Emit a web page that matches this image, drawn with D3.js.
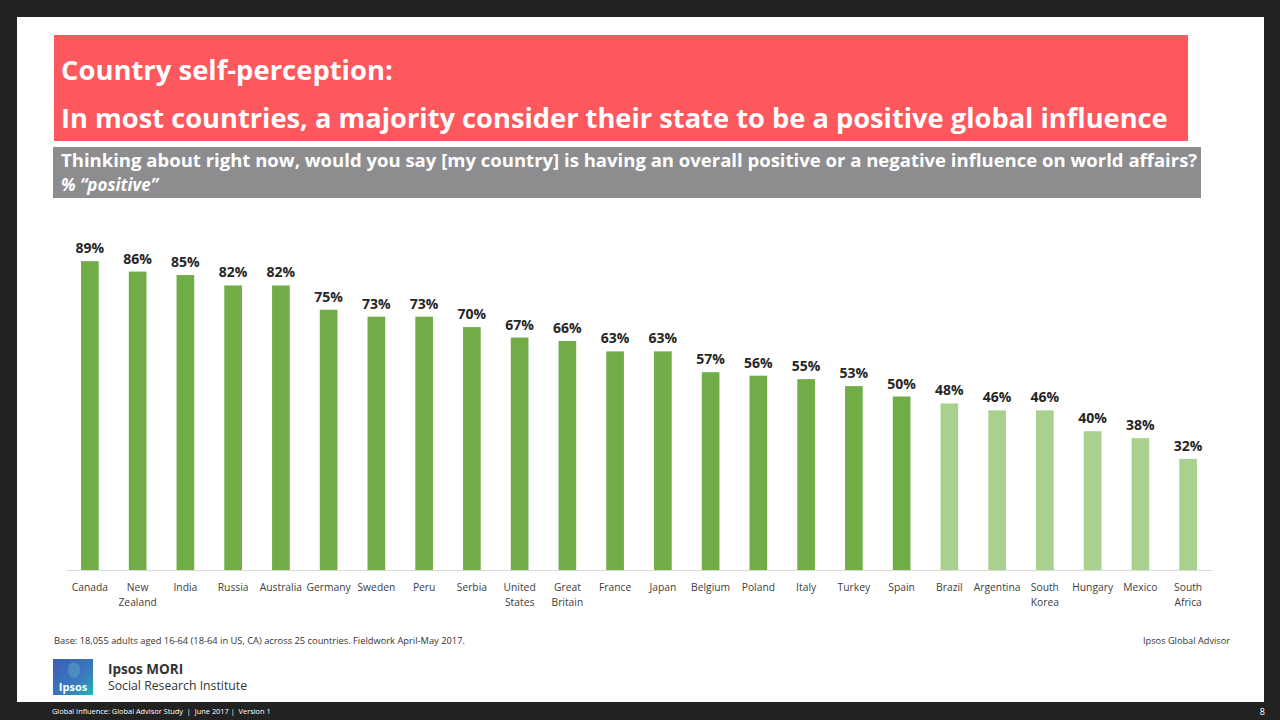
<!DOCTYPE html>
<html>
<head>
<meta charset="utf-8">
<script src="https://cdn.jsdelivr.net/npm/d3@7"></script>
<style>
  html, body { margin: 0; padding: 0; background: #222222; }
  svg { display: block; }
</style>
</head>
<body>
<svg id="chart" width="1280" height="720"></svg>
<script>
const countries = ["Canada","New Zealand","India","Russia","Australia","Germany","Sweden","Peru","Serbia","United States","Great Britain","France","Japan","Belgium","Poland","Italy","Turkey","Spain","Brazil","Argentina","South Korea","Hungary","Mexico","South Africa"];
const labelLines = [["Canada"],["New","Zealand"],["India"],["Russia"],["Australia"],["Germany"],["Sweden"],["Peru"],["Serbia"],["United","States"],["Great","Britain"],["France"],["Japan"],["Belgium"],["Poland"],["Italy"],["Turkey"],["Spain"],["Brazil"],["Argentina"],["South","Korea"],["Hungary"],["Mexico"],["South","Africa"]];
const positive = [89,86,85,82,82,75,73,73,70,67,66,63,63,57,56,55,53,50,48,46,46,40,38,32];
const yDomain = [0, 100];

const titleLine1 = "Country self-perception:";
const titleLine2 = "In most countries, a majority consider their state to be a positive global influence";
const questionText = "Thinking about right now, would you say [my country] is having an overall positive or a negative influence on world affairs?";
const questionSub = "% \u201cpositive\u201d";
const baseNote = "Base: 18,055 adults aged 16-64 (18-64 in US, CA) across 25 countries. Fieldwork April-May 2017.";
const sourceNote = "Ipsos Global Advisor";
const footerText = "Global Influence: Global Advisor Study  |  June 2017 |  Version 1";
const pageNum = "8";

const svg = d3.select("#chart");
const FONT = "'Open Sans', 'Noto Sans', sans-serif";

function fit(sel, w) {
  const node = sel.node();
  const cur = parseFloat(sel.attr("font-size"));
  const len = node.getComputedTextLength();
  sel.attr("font-size", (cur * w / len).toFixed(2));
  return sel;
}

// slide
svg.append("rect").attr("x", 17).attr("y", 17).attr("width", 1247).attr("height", 685).attr("fill", "#ffffff");

// title box
svg.append("rect").attr("x", 54).attr("y", 35).attr("width", 1134).attr("height", 106).attr("fill", "#fc585d");
fit(svg.append("text").attr("x", 61).attr("y", 80).attr("font-family", FONT).attr("font-weight", 700)
  .attr("font-size", 26).attr("fill", "#ffffff").text(titleLine1), 332);
fit(svg.append("text").attr("x", 61).attr("y", 128).attr("font-family", FONT).attr("font-weight", 700)
  .attr("font-size", 26).attr("fill", "#ffffff").text(titleLine2), 1107);

// question box
svg.append("rect").attr("x", 53).attr("y", 147).attr("width", 1148).attr("height", 51).attr("fill", "#8d8d8f");
fit(svg.append("text").attr("x", 61).attr("y", 167).attr("font-family", FONT).attr("font-weight", 700)
  .attr("font-size", 17).attr("fill", "#ffffff").text(questionText), 1137);
svg.append("text").attr("x", 61).attr("y", 191).attr("font-family", FONT).attr("font-weight", 700)
  .attr("font-style", "italic").attr("font-size", 17).attr("fill", "#ffffff").text(questionSub);

// chart
const x = d3.scaleBand().domain(countries).range([66, 1212]).paddingInner(0.63).paddingOuter(0.315);
const y = d3.scaleLinear().domain(yDomain).range([570, 223]);

const g = svg.append("g");
g.selectAll("rect.bar").data(countries).join("rect").attr("class", "bar")
  .attr("x", d => x(d)).attr("width", x.bandwidth())
  .attr("y", (d, i) => y(positive[i])).attr("height", (d, i) => y(0) - y(positive[i]))
  .attr("fill", (d, i) => positive[i] >= 50 ? "#70ad47" : "#a9d18e");

g.selectAll("text.val").data(countries).join("text").attr("class", "val")
  .attr("x", d => x(d) + x.bandwidth() / 2).attr("y", (d, i) => y(positive[i]) - 8)
  .attr("text-anchor", "middle").attr("font-family", FONT).attr("font-weight", 700)
  .attr("font-size", 14).attr("fill", "#262626").text((d, i) => positive[i] + "%");

// axis
const xAxis = d3.axisBottom(x).tickSize(0).tickFormat("");
const ax = svg.append("g").attr("transform", `translate(0,${y(0)})`).call(xAxis);
ax.select(".domain").attr("stroke", "#d9d9d9").attr("stroke-width", 1);

const cat = g.selectAll("text.cat").data(countries).join("text").attr("class", "cat")
  .attr("x", d => x(d) + x.bandwidth() / 2).attr("y", 591)
  .attr("text-anchor", "middle").attr("font-family", FONT).attr("font-size", 10.3).attr("fill", "#404040");
cat.each(function(d, i) {
  const t = d3.select(this);
  labelLines[i].forEach((line, j) => {
    t.append("tspan").attr("x", x(d) + x.bandwidth() / 2).attr("y", 591 + j * 14.5).text(line);
  });
});

// notes
fit(svg.append("text").attr("x", 54).attr("y", 644).attr("font-family", FONT).attr("font-size", 8.6)
  .attr("fill", "#333333").text(baseNote), 411);
fit(svg.append("text").attr("x", 1230).attr("y", 644).attr("text-anchor", "end").attr("font-family", FONT)
  .attr("font-size", 8.8).attr("fill", "#333333").text(sourceNote), 87);

// logo
const defs = svg.append("defs");
const grad = defs.append("linearGradient").attr("id", "lg").attr("x1", 0).attr("y1", 0).attr("x2", 1).attr("y2", 1);
grad.append("stop").attr("offset", "0%").attr("stop-color", "#3d5fb4");
grad.append("stop").attr("offset", "60%").attr("stop-color", "#3a78bd");
grad.append("stop").attr("offset", "100%").attr("stop-color", "#24b3b2");
svg.append("rect").attr("x", 53).attr("y", 659).attr("width", 40).attr("height", 36).attr("fill", "url(#lg)");
svg.append("ellipse").attr("cx", 74).attr("cy", 670).attr("rx", 6).attr("ry", 8).attr("fill", "#5fb0c6").attr("opacity", 0.45);
svg.append("text").attr("x", 73).attr("y", 691).attr("text-anchor", "middle").attr("font-family", FONT)
  .attr("font-weight", 700).attr("font-size", 11).attr("fill", "#ffffff").text("Ipsos");
svg.append("text").attr("x", 108).attr("y", 674).attr("font-family", FONT).attr("font-weight", 700)
  .attr("font-size", 13.5).attr("fill", "#333333").text("Ipsos MORI");
fit(svg.append("text").attr("x", 108).attr("y", 690).attr("font-family", FONT)
  .attr("font-size", 13).attr("fill", "#333333").text("Social Research Institute"), 139);

// footer
svg.append("text").attr("x", 52).attr("y", 714).attr("font-family", FONT).attr("font-size", 7.4)
  .attr("fill", "#ffffff").attr("xml:space", "preserve").style("white-space", "pre").text(footerText);
svg.append("text").attr("x", 1265).attr("y", 715).attr("text-anchor", "end").attr("font-family", FONT)
  .attr("font-size", 9).attr("fill", "#ffffff").text(pageNum);
</script>
</body>
</html>
